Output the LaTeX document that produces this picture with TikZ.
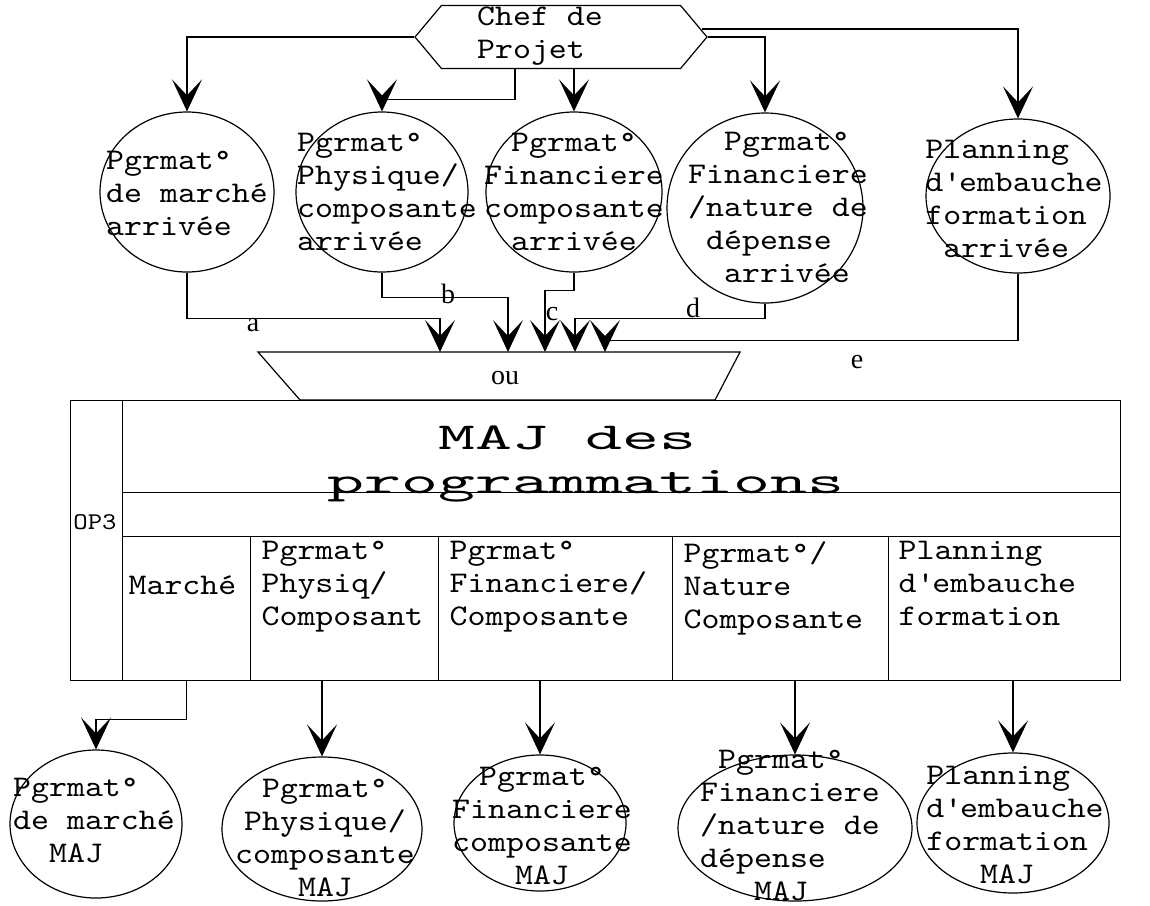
\documentclass[tikz,border=0pt]{standalone}
\usepackage{fontspec}
\setmainfont{Liberation Serif}
\newfontfamily\monofont{lmmono10-regular.otf}[FakeStretch=1.14]
\newfontfamily\titlefont{lmmono10-regular.otf}[FakeStretch=1.85]
\usetikzlibrary{arrows.meta,shapes.geometric,shapes.symbols,calc}
\begin{document}
\begin{tikzpicture}[x=0.5pt,y=-0.5pt,line width=0.6pt]
  \tikzset{ bubble/.style={draw, ellipse, inner sep=0pt},
            txt/.style={font=\monofont\fontsize{15}{16.5}\selectfont, inner sep=0pt},
            flow/.style={-{Stealth[length=16pt,width=15pt,inset=8pt]}},
            cell/.style={draw, anchor=north west, inner sep=0pt},
            lbl/.style={font=\fontsize{14}{16}\selectfont, inner sep=0pt} };
  \useasboundingbox (0,0) rectangle (1150,905);

  \node[draw, signal, signal to=west and east, signal pointer angle=100,
        minimum width=146pt, minimum height=31.5pt, inner sep=0pt] (chef) at (561,37) {};
  \node[txt, align=left] (cheft) at (540,36) {Chef de\\Projet};

  \node[bubble, minimum width=87pt, minimum height=80pt] (in1) at (187,192) {};
  \node[bubble, minimum width=86pt, minimum height=80pt] (in2) at (382,192) {};
  \node[bubble, minimum width=88pt, minimum height=80pt] (in3) at (574,192) {};
  \node[bubble, minimum width=98pt, minimum height=95pt] (in4) at (765,208) {};
  \node[bubble, minimum width=92pt, minimum height=77pt] (in5) at (1018,196) {};
  \node[txt, align=left] (in1t) at (187,193) {Pgrmat°\\de marché\\arrivée};
  \node[txt, align=left] (in2t) at (387,192) {Pgrmat°\\Physique/\\composante\\arrivée};
  \node[txt, align=center] (in3t) at (574,192) {Pgrmat°\\Financiere\\composante\\arrivée};
  \node[txt, align=left] (in4t) at (778,207) {\hphantom{xx}Pgrmat°\\Financiere\\/nature de\\\hphantom{x}dépense\\\hphantom{xx}arrivée};
  \node[txt, align=left] (in5t) at (1014,199) {Planning\\d\textquotesingle embauche\\formation\\\hphantom{x}arrivée};

  \draw[flow] (chef.west) -| (in1.north);
  \draw[flow] ($(chef.south)+(-46,0)$) -- ++(0,30) -| (in2.north);
  \draw[flow] (in3.north |- chef.south) -- (in3.north);
  \draw[flow] (chef.east) -| (in4.north);
  \draw[flow] ($(chef.east)+(-6,-8)$) -| (in5.north);

  \coordinate (ina) at (440,352);
  \coordinate (inb) at (508,352);
  \coordinate (inc) at (545,352);
  \coordinate (ind) at (575,352);
  \coordinate (ine) at (605,352);
  \draw (258,352) -- (740,352) -- (715,400) -- (300,400) -- cycle;
  \node[lbl] (ou) at (505,378) {ou};

  \draw[flow] (in1.south) -- ++(0,46) -| (ina);
  \draw[flow] (in2.south) -- ++(0,25) -| (inb);
  \draw[flow] (in3.south) -- ++(0,18) -| (inc);
  \draw[flow] (in4.south) -- ++(0,15) -| (ind);
  \draw[flow] (in5.south) -- ++(0,67) -| (ine);
  \node[lbl] (la) at (253,325) {a};
  \node[lbl] (lb) at (448,294) {b};
  \node[lbl] (lc) at (552,314) {c};
  \node[lbl] (ld) at (693,308) {d};
  \node[lbl] (le) at (857,362) {e};

  \node[cell, minimum width=26pt, minimum height=140pt] (op) at (70,400) {};
  \node[txt, font=\monofont\fontsize{12}{14}\selectfont] (opt) at (95,522) {OP3};
  \node[cell, minimum width=499pt, minimum height=46pt] (maj) at (122,400) {};
  \node[cell, minimum width=499pt, minimum height=22pt] (vide) at (122,492) {};
  \node[cell, minimum width=64pt, minimum height=72pt] (c1) at (122,536) {};
  \node[cell, minimum width=94pt, minimum height=72pt] (c2) at (250,536) {};
  \node[cell, minimum width=117pt, minimum height=72pt] (c3) at (438,536) {};
  \node[cell, minimum width=108pt, minimum height=72pt] (c4) at (672,536) {};
  \node[cell, minimum width=116pt, minimum height=72pt] (c5) at (888,536) {};
  \node[inner sep=0pt, font=\titlefont\fontsize{19}{22}\selectfont, align=center] (majt) at (586,464) {MAJ des\hphantom{x}\\programmations};
  \node[txt, anchor=west] (c1t) at (128,585) {Marché};
  \node[txt, align=left, anchor=north west] (c2t) at (261,541) {Pgrmat°\\Physiq/\\Composant};
  \node[txt, align=left, anchor=north west] (c3t) at (449,541) {Pgrmat°\\Financiere/\\Composante};
  \node[txt, align=left, anchor=north west] (c4t) at (683,541) {Pgrmat°/\\Nature\\Composante};
  \node[txt, align=left, anchor=north west] (c5t) at (898,541) {Planning\\d\textquotesingle embauche\\formation};

  \node[bubble, minimum width=86pt, minimum height=74pt] (out1) at (96,824) {};
  \node[bubble, minimum width=100pt, minimum height=72pt] (out2) at (322,829) {};
  \node[bubble, minimum width=86pt, minimum height=68pt] (out3) at (540,823) {};
  \node[bubble, minimum width=117pt, minimum height=73pt] (out4) at (795,828) {};
  \node[bubble, minimum width=96pt, minimum height=70pt] (out5) at (1013,823) {};
  \node[txt, align=left] (out1t) at (94,820) {Pgrmat°\\de marché\\\hphantom{xx}MAJ};
  \node[txt, align=center] (out2t) at (325,838) {Pgrmat°\\Physique/\\composante\\MAJ};
  \node[txt, align=center] (out3t) at (542,826) {Pgrmat°\\Financiere\\composante\\MAJ};
  \node[txt, align=left] (out4t) at (790,825) {\hphantom{x}Pgrmat°\\Financiere\\/nature de\\dépense\\\hphantom{xxx}MAJ};
  \node[txt, align=left] (out5t) at (1015,825) {Planning\\d\textquotesingle embauche\\formation\\\hphantom{xxx}MAJ};

  \draw[flow] (c1.south) -- ++(0,38) -| (out1.north);
  \draw[flow] (c2.south -| out2.north) -- (out2.north);
  \draw[flow] (c3.south -| out3.north) -- (out3.north);
  \draw[flow] (c4.south -| out4.north) -- (out4.north);
  \draw[flow] (c5.south -| out5.north) -- (out5.north);
\end{tikzpicture}
\end{document}
